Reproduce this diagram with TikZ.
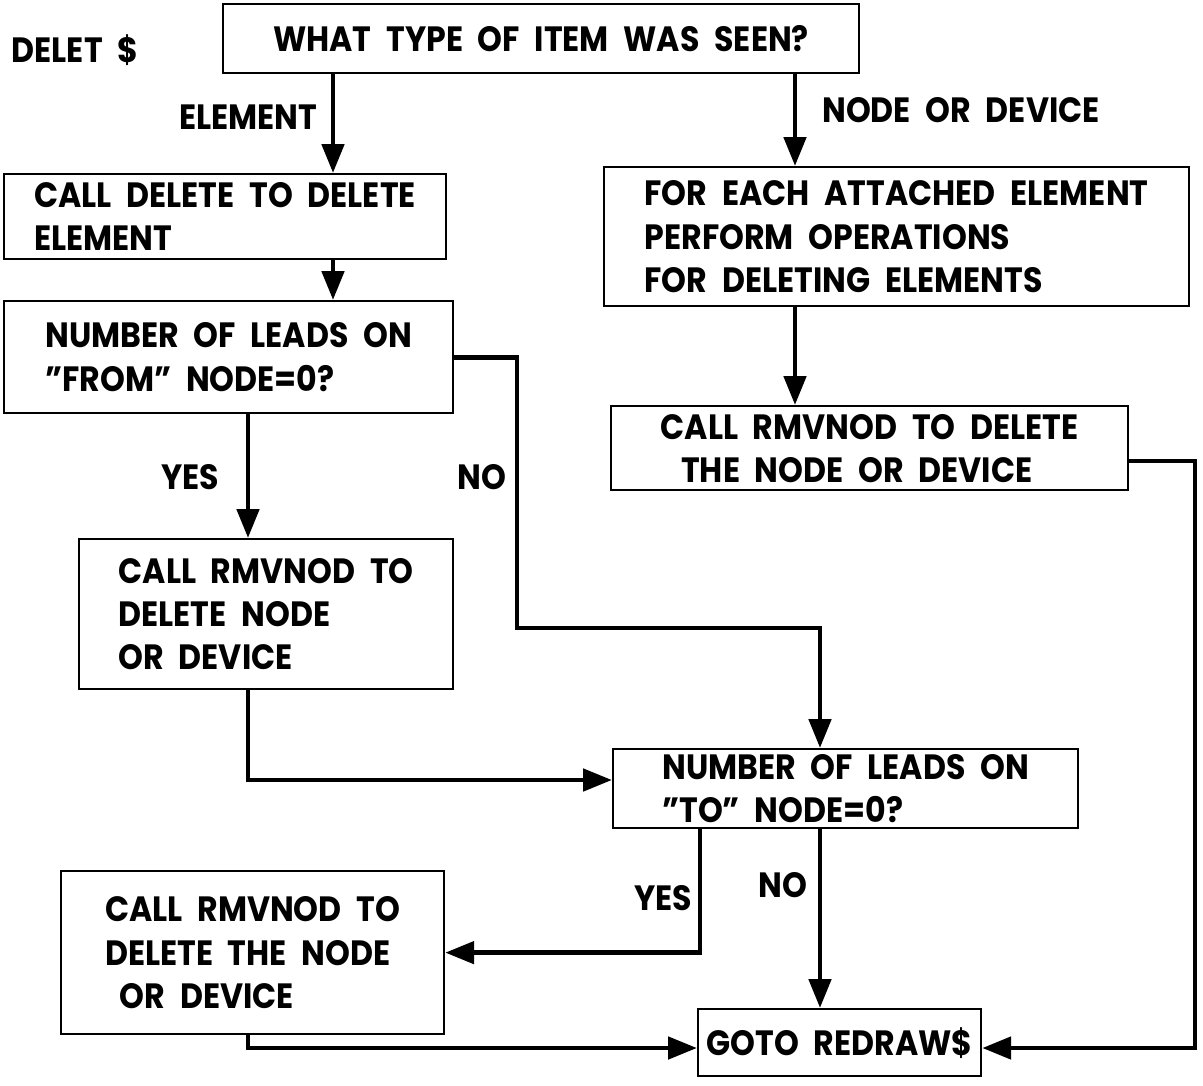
\documentclass[tikz,border=0pt]{standalone}
\usepackage{fontspec}
\setmainfont{Poppins}[FakeStretch=0.9,WordSpace=2.2]
\usetikzlibrary{arrows.meta,positioning,calc}

\tikzset{
  blk/.style={draw, line width=1.3pt, align=left, anchor=north west, inner sep=0pt,
    font=\fontsize{20}{24.5}\selectfont\bfseries},
  lbl/.style={font=\fontsize{20}{24.5}\selectfont\bfseries},
  flow/.style={line width=2.8pt, -{Triangle[length=0.58cm,width=0.44cm]}},
}

\begin{document}
\begin{tikzpicture}[x=0.02cm,y=-0.02cm]
\useasboundingbox (0,0) rectangle (1203,1085);
% columns and rows of the connectors
\coordinate (cA) at (333,0);
\coordinate (cB) at (795,0);
\coordinate (cC) at (248,0);
\coordinate (cD) at (517,0);
\coordinate (cE) at (820,0);
\coordinate (cF) at (700,0);
\coordinate (cG) at (1195,0);
\coordinate (rB) at (0,628);
\coordinate (rC) at (0,780);
\coordinate (rE) at (0,1048);
\coordinate (rF) at (0,461);

\node[lbl] (title) at (75,50) {DELET \$};

% boxes
\node[blk, minimum width=12.72cm, minimum height=1.38cm] (what) at (222,3) {WHAT TYPE OF ITEM WAS SEEN?};
\node[blk, minimum width=8.84cm, minimum height=1.7cm] (del) at (3,173) {CALL DELETE TO DELETE\\ELEMENT};
\node[blk, minimum width=11.7cm, minimum height=2.78cm] (each) at (603,166) {FOR EACH ATTACHED ELEMENT\\PERFORM OPERATIONS\\FOR DELETING ELEMENTS};
\node[blk, minimum width=8.98cm, minimum height=2.24cm] (from) at (3,300) {NUMBER OF LEADS ON\\"FROM" NODE=0?};
\node[blk, minimum width=10.34cm, minimum height=1.68cm] (rmv1) at (610,405) {CALL RMVNOD TO DELETE\\\ \,THE NODE OR DEVICE};
\node[blk, minimum width=7.48cm, minimum height=3.0cm] (rmv2) at (78,538) {CALL RMVNOD TO\\DELETE NODE\\OR DEVICE};
\node[blk, minimum width=9.3cm, minimum height=1.58cm] (to) at (612,748) {NUMBER OF LEADS ON\\"TO" NODE=0?};
\node[blk, minimum width=7.66cm, minimum height=3.26cm] (rmv3) at (60,870) {CALL RMVNOD TO\\DELETE THE NODE\\\ OR DEVICE};
\node[blk, minimum width=5.66cm, minimum height=1.34cm] (redraw) at (697,1008) {GOTO REDRAW\$};

% connectors
\draw[flow] (what.south -| cA) -- (del.north -| cA);
\node[lbl] (lelem) at (248,117) {ELEMENT};
\draw[flow] (what.south -| cB) -- (each.north -| cB);
\node[lbl] (lnode) at (961,110) {NODE OR DEVICE};
\draw[flow] (del.south -| cA) -- (from.north -| cA);
\draw[flow] (each.south -| cB) -- (rmv1.north -| cB);
\draw[flow] (from.south -| cC) -- (rmv2.north -| cC);
\node[lbl] (lyes1) at (190,477) {YES};
\draw[flow] (from.east) -- (cD |- from.east) -- (cD |- rB) -- (cE |- rB) -- (to.north -| cE);
\node[lbl] (lno1) at (482,477) {NO};
\draw[flow] (rmv2.south -| cC) |- (to.west |- rC);
\draw[flow] (to.south -| cF) |- (rmv3.east);
\node[lbl] (lyes2) at (663,898) {YES};
\draw[flow] (to.south -| cE) -- (redraw.north -| cE);
\node[lbl] (lno2) at (783,885) {NO};
\draw[flow] (rmv3.south -| cC) |- (redraw.west |- rE);
\draw[flow] (rmv1.east |- rF) -| (cG |- rE) -- (redraw.east |- rE);
\end{tikzpicture}
\end{document}
